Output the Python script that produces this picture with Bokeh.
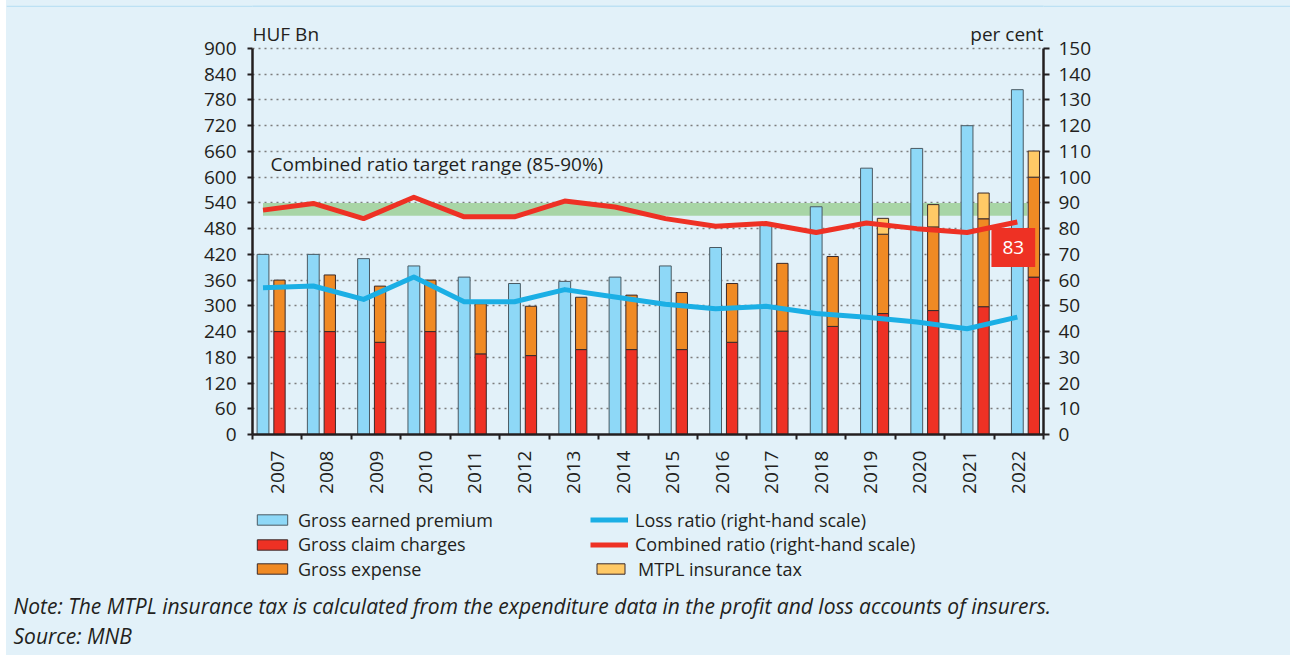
from math import pi
from bokeh.plotting import figure
from bokeh.layouts import row, column
from bokeh.models import (Range1d, LinearAxis, FixedTicker, Label, Legend,
                          LegendItem, Spacer, Title)
from bokeh.embed import file_html
from bokeh.resources import INLINE

# ---------------- data ----------------
years = [str(y) for y in range(2007, 2023)]
premium = [420, 420, 410, 393, 367, 352, 357, 367, 393, 436, 488, 531, 621, 667, 720, 804]
claims = [240, 240, 215, 240, 188, 184, 198, 198, 198, 215, 241, 252, 282, 289, 298, 367]
expense = [120, 132, 131, 120, 117, 115, 122, 127, 133, 137, 158, 163, 185, 195, 205, 233]
mtpl_tax = [0, 0, 0, 0, 0, 0, 0, 0, 0, 0, 0, 0, 37, 52, 60, 61]
loss_ratio = [57.0, 57.7, 52.5, 61.2, 51.6, 51.6, 56.3, 53.4, 50.6, 48.9, 49.8, 47.0, 45.6, 43.7, 41.1, 45.6]
combined_ratio = [87.2, 89.8, 83.9, 92.2, 84.6, 84.6, 90.7, 88.4, 83.9, 80.9, 82.0, 78.5, 82.2, 80.0, 78.5, 82.6]
target_range = [85, 90]
left_ticks = list(range(0, 901, 60))
right_ticks = list(range(0, 151, 10))

# ---------------- styles ----------------
FONT = "Open Sans"
INK = "#231F20"
BG = "#E2F1F9"
STRIP = "#BDE1F4"
C_PREM = "#8ED8F7"
C_CLAIM = "#EE3124"
C_EXP = "#F08A24"
C_TAX = "#FFC966"
C_LOSS = "#1BAFE5"
C_COMB = "#EE3124"
C_BAND = "#A8D5A6"
FS = "19px"
BAR_LINE = "#3a2a2a"
PREM_LINE = "#4a5a63"
NAN = float("nan")

W = 1284
BL, BR = 246, 247
n = len(years)
idx = list(range(n))
exp_top = [c + e for c, e in zip(claims, expense)]
tax_top = [a + t for a, t in zip(exp_top, mtpl_tax)]

# frame extends a bit above the top tick so the unit captions fit inside it
head = (434 - 20) / (434 - 48)
p = figure(width=W, height=493, x_range=Range1d(-0.5, n - 0.5),
           y_range=Range1d(left_ticks[0], left_ticks[-1] * head),
           output_backend="svg", toolbar_location=None,
           min_border_left=BL, min_border_right=BR,
           min_border_top=13, min_border_bottom=66,
           background_fill_color=BG, border_fill_color=BG,
           outline_line_color=None)
bar_start = -0.2088
p.extra_x_ranges = {"bars": Range1d(bar_start, bar_start + 15.729)}
p.extra_y_ranges = {"pct": Range1d(right_ticks[0], right_ticks[-1] * head)}

# target band
p.quad(left=0, right=n - 1 + 0.2, bottom=target_range[0], top=target_range[1],
       x_range_name="bars", y_range_name="pct",
       fill_color=C_BAND, line_color=None)

# bars
off_red = 0.328
red_x = [i + off_red for i in idx]
p.vbar(x=idx, top=premium, width=0.235, x_range_name="bars",
       fill_color=C_PREM, line_color=PREM_LINE, line_width=1)
p.vbar(x=red_x, top=claims, width=0.225, x_range_name="bars",
       fill_color=C_CLAIM, line_color=BAR_LINE, line_width=1)
p.vbar(x=red_x, bottom=claims, top=exp_top, width=0.225, x_range_name="bars",
       fill_color=C_EXP, line_color=BAR_LINE, line_width=1)
tax_x = [x for x, t in zip(red_x, mtpl_tax) if t > 0]
tax_b = [b for b, t in zip(exp_top, mtpl_tax) if t > 0]
tax_t = [b for b, t in zip(tax_top, mtpl_tax) if t > 0]
p.vbar(x=tax_x, bottom=tax_b, top=tax_t, width=0.225, x_range_name="bars",
       fill_color=C_TAX, line_color=BAR_LINE, line_width=1)

# lines
p.line(x=idx, y=loss_ratio, x_range_name="bars", y_range_name="pct",
       line_color=C_LOSS, line_width=5, line_join="round")
p.line(x=idx, y=combined_ratio, x_range_name="bars", y_range_name="pct",
       line_color=C_COMB, line_width=5, line_join="round")

# last value label
p.add_layout(Label(x=n - 1 - 0.08, y=72.7, x_range_name="bars", y_range_name="pct",
                   text=f"{round(combined_ratio[-1])}", text_align="center",
                   text_baseline="middle", text_color="white",
                   text_font=FONT, text_font_size=FS,
                   background_fill_color=C_COMB, padding=(11, 13)))

# axes
def style_axis(ax):
    ax.axis_line_color = INK
    ax.axis_line_width = 2.5
    ax.major_tick_line_color = INK
    ax.major_tick_line_width = 2
    ax.major_tick_in = 0
    ax.minor_tick_line_color = None
    ax.major_label_text_font = FONT
    ax.major_label_text_font_size = FS
    ax.major_label_text_color = INK

yl = p.yaxis[0]
yl.ticker = FixedTicker(ticks=left_ticks)
yl.bounds = (left_ticks[0], left_ticks[-1])
style_axis(yl)
yl.major_tick_out = 5
yl.major_label_standoff = 11

yr = LinearAxis(y_range_name="pct", ticker=FixedTicker(ticks=right_ticks),
                bounds=(right_ticks[0], right_ticks[-1]))
style_axis(yr)
yr.major_tick_out = 6
yr.major_label_standoff = 9
p.add_layout(yr, "right")

xa = p.xaxis[0]
style_axis(xa)
xa.ticker = FixedTicker(ticks=idx, minor_ticks=[i - 0.5 for i in range(n + 1)])
xa.major_label_overrides = {i: y for i, y in enumerate(years)}
xa.major_label_orientation = pi / 2
xa.major_tick_out = 0
xa.major_tick_line_color = None
xa.minor_tick_line_color = INK
xa.minor_tick_line_width = 2
xa.minor_tick_in = 0
xa.minor_tick_out = 5
xa.major_label_standoff = 11

p.xgrid.visible = False
p.ygrid.ticker = FixedTicker(ticks=left_ticks)
p.ygrid.grid_line_color = "#7d7d7d"
p.ygrid.grid_line_dash = "2 4"
p.ygrid.grid_line_width = 1.3


def add_text(x, y, t, align="left"):
    p.add_layout(Label(x=x, y=y, x_units="screen", y_units="screen", text=t,
                       text_align=align, text_baseline="middle",
                       text_font=FONT, text_font_size=FS, text_color=INK))


add_text(0, 401, "HUF Bn")
add_text(791, 401, "per cent", align="right")
add_text(18, 271, "Combined ratio target range (85-90%)")

# ---------------- legend + notes panel ----------------
q = figure(width=W, height=155, x_range=Range1d(0, 1), y_range=Range1d(0, 1),
           output_backend="svg", toolbar_location=None,
           min_border_left=BL, min_border_right=BR,
           min_border_top=0, min_border_bottom=66,
           x_axis_location=None, y_axis_location=None,
           background_fill_color=BG, border_fill_color=BG, outline_line_color=None)
q.grid.visible = False
# legend swatches (renderers without drawable samples, used only by the legend)
sw = dict(x=[NAN], top=[NAN], width=0.1, line_width=1)
k_prem = q.vbar(**sw, fill_color=C_PREM, line_color=PREM_LINE)
k_claim = q.vbar(**sw, fill_color=C_CLAIM, line_color=BAR_LINE)
k_exp = q.vbar(**sw, fill_color=C_EXP, line_color=BAR_LINE)
k_tax = q.vbar(**sw, fill_color=C_TAX, line_color=BAR_LINE)
k_loss = q.line(x=[NAN], y=[NAN], line_color=C_LOSS, line_width=5)
k_comb = q.line(x=[NAN], y=[NAN], line_color=C_COMB, line_width=5)

entries = [("Gross earned premium", k_prem, 1, 57.25),
           ("Gross claim charges", k_claim, 1, 32.75),
           ("Gross expense", k_exp, 1, 8.25),
           ("Loss ratio (right-hand scale)", k_loss, 338, 57.25),
           ("Combined ratio (right-hand scale)", k_comb, 338, 32.75),
           ("MTPL insurance tax", k_tax, 341, 8.25)]
for label, rend, lx, ly in entries:
    q.add_layout(Legend(items=[LegendItem(label=label, renderers=[rend])],
                        location=(lx, ly), orientation="vertical",
                        background_fill_alpha=0, border_line_color=None,
                        padding=0, margin=0, spacing=0,
                        glyph_width=38 if lx < 340 else 35, glyph_height=13,
                        label_standoff=7 if lx < 340 else 10,
                        label_text_font=FONT, label_text_font_size="18px",
                        label_text_color=INK))

for t in ["Note: The MTPL insurance tax is calculated from the expenditure data in the profit and loss accounts of insurers.",
          "Source: MNB"]:
    q.add_layout(Title(text=t, align="left", offset=-239, standoff=0,
                       text_font=FONT, text_font_size="21px",
                       text_font_style="italic", text_color=INK), "below")

# ---------------- top strip ----------------
strip = figure(width=W, height=7, x_range=Range1d(0, 1), y_range=Range1d(0, 1),
               output_backend="svg", toolbar_location=None, min_border=0,
               x_axis_location=None, y_axis_location=None,
               background_fill_color=STRIP, border_fill_color=STRIP,
               outline_line_color=None)
strip.grid.visible = False

layout = row(Spacer(width=6, height=655),
             column(strip, p, q, styles={"background-color": BG}))
open("out.html", "w").write(file_html(layout, INLINE))
